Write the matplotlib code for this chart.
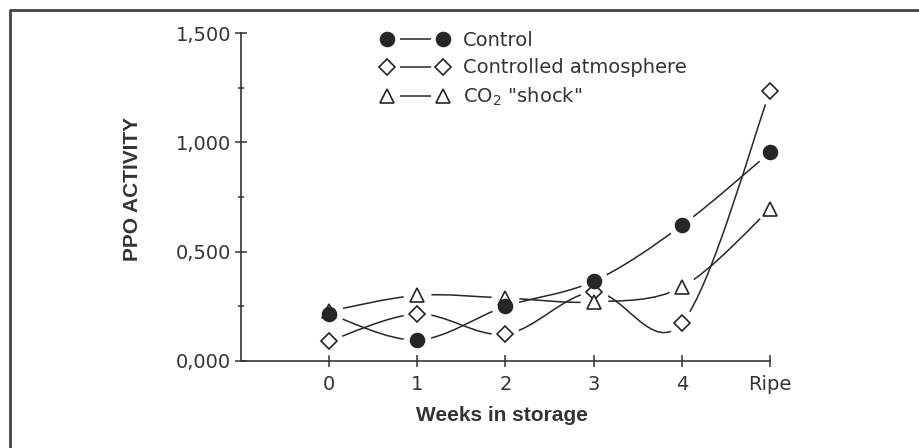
import numpy as np
import matplotlib.pyplot as plt
from matplotlib.path import Path
from matplotlib.patches import PathPatch
from matplotlib.lines import Line2D

# datos
weeks = [0, 1, 2, 3, 4, 5]
week_labels = ['0', '1', '2', '3', '4', 'Ripe']
control = [0.215, 0.096, 0.250, 0.365, 0.620, 0.954]
atmos = [0.091, 0.215, 0.123, 0.315, 0.173, 1.233]
shock = [0.228, 0.300, 0.288, 0.270, 0.338, 0.694]
names = ['Control', 'Controlled atmosphere', r'CO$_2$ "shock"']
yticks = [0, 0.5, 1.0, 1.5]
ytick_labels = ['0,000', '0,500', '1,000', '1,500']

ink = '#262626'
txt = '#333333'


def curva(x, y):
    # curva suave (catmull-rom) que pasa por los puntos
    px = np.r_[x[0], x, x[-1]].astype(float)
    py = np.r_[y[0], y, y[-1]].astype(float)
    verts = [(px[1], py[1])]
    codes = [Path.MOVETO]
    for i in range(1, len(x)):
        c1 = (px[i] + (px[i+1] - px[i-1]) / 6, py[i] + (py[i+1] - py[i-1]) / 6)
        c2 = (px[i+1] - (px[i+2] - px[i]) / 6, py[i+1] - (py[i+2] - py[i]) / 6)
        verts += [c1, c2, (px[i+1], py[i+1])]
        codes += [Path.CURVE4] * 3
    return Path(verts, codes)


fig = plt.figure(figsize=(9.2, 4.48), dpi=100)
ax = fig.add_axes([241/920, 1 - 361/448, 529/920, 328/448])

series = [control, atmos, shock]
marks = [dict(marker='o', ms=10, mfc=ink, mec=ink, mew=1.2),
         dict(marker='D', ms=7.7, mfc='white', mec=ink, mew=1.2),
         dict(marker='^', ms=10, mfc='white', mec=ink, mew=1.2)]
capas = [6, 4, 5]  # el control queda encima

for s in series:
    ax.add_patch(PathPatch(curva(weeks, s), fill=False, ec=ink, lw=1.1, zorder=2))
for s in series:
    ax.plot(weeks, s, ls='none', marker='o', ms=19, mfc='white', mec='white',
            zorder=3, clip_on=False)
for s, m, z in zip(series, marks, capas):
    ax.plot(weeks, s, ls='none', zorder=z, clip_on=False, **m)

ax.set_xlim(-1, 5)
ax.set_ylim(0, 1.5)
for side in ['top', 'right']:
    ax.spines[side].set_visible(False)
for side in ['left', 'bottom']:
    ax.spines[side].set_linewidth(1.2)
    ax.spines[side].set_color(txt)

ax.set_xticks(weeks)
ax.set_xticklabels(week_labels)
ax.set_yticks(yticks)
ax.set_yticklabels(ytick_labels)
ax.set_yticks([0.25, 0.75, 1.25], minor=True)
ax.tick_params(axis='both', which='major', direction='inout', length=8,
               width=1.1, color=txt, labelcolor=txt, labelsize=14)
ax.tick_params(axis='y', which='major', pad=3)
ax.tick_params(axis='x', which='major', pad=6)
ax.tick_params(axis='y', which='minor', direction='inout', length=4.5,
               width=1.1, color=txt)

fig.text(133/920, 1 - 189/448, 'PPO ACTIVITY', rotation=90, ha='center',
         va='center', fontsize=15, fontweight='bold', color=txt,
         family='Liberation Sans')
fig.text(502/920, 1 - 415/448, 'Weeks in storage', ha='center', va='center',
         fontsize=15, fontweight='bold', color=txt, family='Liberation Sans')

# leyenda
handles = []
for m in marks:
    linea = Line2D([], [], color=ink, lw=1.1)
    halo = Line2D([], [], ls='none', marker='o', ms=17, mfc='white', mec='white')
    punto = Line2D([], [], ls='none', **m)
    handles.append((linea, halo, punto))
ax.legend(handles, names, numpoints=2, frameon=False, fontsize=14,
          handlelength=3.48, handletextpad=0.73, labelspacing=0.43,
          borderpad=0, borderaxespad=0, loc='upper left',
          bbox_to_anchor=(381/920, 1 - 31/448), bbox_transform=fig.transFigure,
          labelcolor=txt)

# marco exterior
fig.add_artist(Line2D([10/920, 10/920, 1], [0, 1 - 10/448, 1 - 10/448],
                      transform=fig.transFigure, color='#444444', lw=2))

fig.savefig('out.png', dpi=100)
